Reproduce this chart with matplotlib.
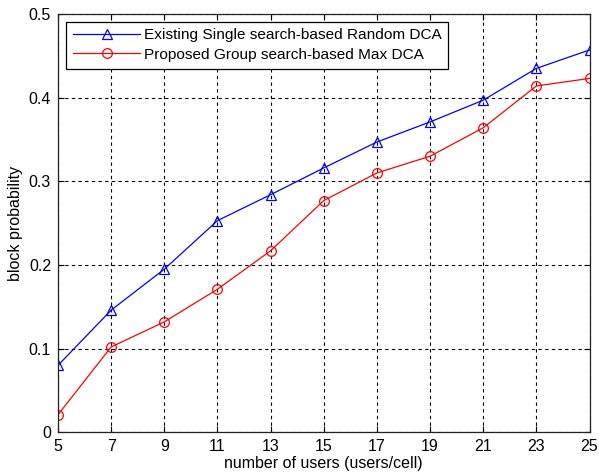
import matplotlib
matplotlib.use("Agg")
import matplotlib.pyplot as plt

users = [5, 7, 9, 11, 13, 15, 17, 19, 21, 23, 25]
existing_random = [0.080, 0.146, 0.195, 0.253, 0.284, 0.316, 0.347, 0.371, 0.397, 0.435, 0.457]
proposed_max = [0.021, 0.102, 0.132, 0.171, 0.217, 0.277, 0.310, 0.330, 0.364, 0.414, 0.423]
xticks = [5, 7, 9, 11, 13, 15, 17, 19, 21, 23, 25]
yticks = [0, 0.1, 0.2, 0.3, 0.4, 0.5]
ytick_labels = ["0", "0.1", "0.2", "0.3", "0.4", "0.5"]

plt.rcParams['font.family'] = ['Liberation Sans', 'DejaVu Sans']

fig = plt.figure(figsize=(5.99, 4.76), dpi=100)
ax = fig.add_axes([0.0968, 0.0918, 0.8874, 0.8788])

ax.plot(users, existing_random, color='blue', lw=0.9, marker='^', markersize=7,
        markerfacecolor='none', markeredgecolor='blue', markeredgewidth=0.9,
        label='Existing Single search-based Random DCA')
ax.plot(users, proposed_max, color='red', lw=0.9, marker='o', markersize=7,
        markerfacecolor='none', markeredgecolor='red', markeredgewidth=0.9,
        label='Proposed Group search-based Max DCA')

ax.set_xlim(5, 25)
ax.set_ylim(0, 0.5)
ax.set_xticks(xticks)
ax.set_yticks(yticks)
ax.set_yticklabels(ytick_labels)
ax.tick_params(direction='in', top=True, right=True, labelsize=11.5, length=4, width=0.8, pad=5)
ax.grid(True, color='black', linestyle=(0, (3, 3)), linewidth=0.8)
for s in ax.spines.values():
    s.set_linewidth(0.9)
    s.set_color('#222222')

ax.set_xlabel('number of users (users/cell)', fontsize=11.5, labelpad=1)
ax.set_ylabel('block probability', fontsize=11.5, labelpad=4)

leg = ax.legend(loc='upper left', bbox_to_anchor=(0.016, 0.982), fontsize=11.1,
                fancybox=False, framealpha=1, edgecolor='black', handlelength=4.3,
                handletextpad=0.25, borderpad=0.45, labelspacing=0.35, borderaxespad=0.0)
leg.get_frame().set_linewidth(0.9)

fig.savefig('out.png', dpi=100)
